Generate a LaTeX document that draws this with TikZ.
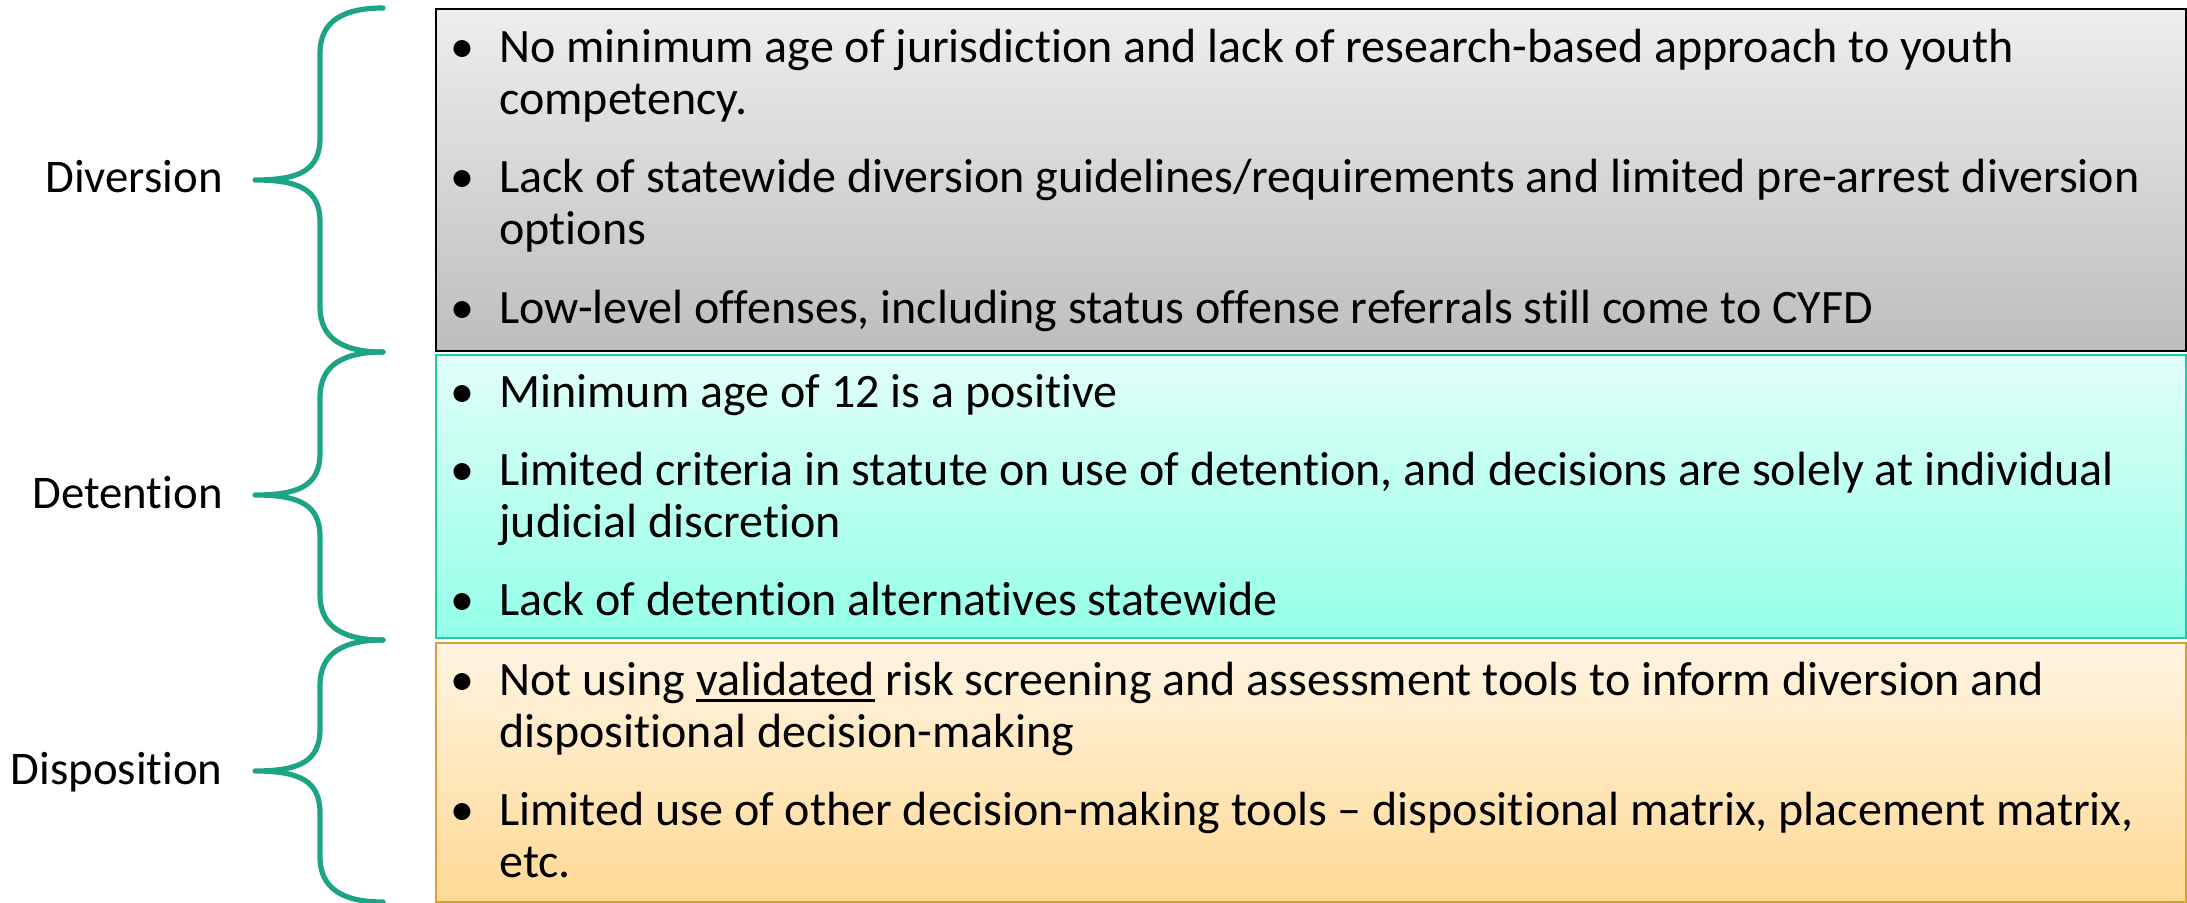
\documentclass[tikz,border=0pt]{standalone}
\usepackage{fontspec}
\setmainfont{Carlito}[Ligatures={NoCommon}]
\definecolor{graytop}{HTML}{EEEEEE}
\definecolor{graybot}{HTML}{BDBDBD}
\definecolor{tealtop}{HTML}{E2FFF8}
\definecolor{tealbot}{HTML}{93FFE8}
\definecolor{tealline}{HTML}{24C9A6}
\definecolor{orgtop}{HTML}{FFF4E2}
\definecolor{orgbot}{HTML}{FFD995}
\definecolor{orgline}{HTML}{D5A036}
\definecolor{bracecol}{HTML}{1DA385}
\newcommand\myul[1]{\setbox0\hbox{#1}\rlap{\rule[-3.7pt]{\wd0}{1.7pt}}\box0\relax}
\newcommand\bl[1]{\parbox[t]{900pt}{\raggedright #1}}
\tikzset{
  box/.style={shading=axis, minimum width=875pt, inner sep=0pt, line width=1pt},
  bullettext/.style={anchor=base west, inner sep=0pt, font=\fontsize{24pt}{26pt}\selectfont},
  bulletdot/.style={anchor=base, inner sep=0pt, font=\fontsize{24pt}{26pt}\selectfont},
  label/.style={anchor=base east, inner sep=0pt, font=\fontsize{23.4pt}{26pt}\selectfont},
  bracestyle/.style={draw=bracecol, line width=2.6pt, line cap=round, line join=round}
}
\newcommand\mybrace[3]{%
  \draw[bracestyle] (383,#1) .. controls (345,#1) and (320,#1+12) .. (320,#1+45)
    -- (320,#2-42) .. controls (320,#2-10) and (300,#2) .. (255,#2)
    .. controls (300,#2) and (320,#2+10) .. (320,#2+42)
    -- (320,#3-45) .. controls (320,#3-12) and (345,#3) .. (383,#3);}
\begin{document}
\begin{tikzpicture}[x=0.5pt, y=-0.5pt]
\useasboundingbox (0,0) rectangle (2187,903);
% boxes
\node[box, draw=black, top color=graytop, bottom color=graybot, minimum height=171pt] (div) at (1311,180) {};
\node[box, draw=tealline, top color=tealtop, bottom color=tealbot, minimum height=141.5pt] (det) at (1311,496.5) {};
\node[box, draw=orgline, top color=orgtop, bottom color=orgbot, minimum height=129.5pt] (dis) at (1311,772.5) {};
% braces
\mybrace{8}{180}{352}
\mybrace{352}{495}{640}
\mybrace{640}{771}{902}
% labels
\node[label] (ldiv) at (223,193) {Diversion};
\node[label] (ldet) at (223,508) {Detention};
\node[label] (ldis) at (223,784) {Disposition};
% bullets: diversion
\node[bulletdot] (d1b) at (462,63) {•};
\node[bullettext] (d1) at (499,63) {\bl{No minimum age of jurisdiction and lack of research-based approach to youth\\competency.}};
\node[bulletdot] (d2b) at (462,193) {•};
\node[bullettext] (d2) at (499,193) {\bl{Lack of statewide diversion guidelines/requirements and limited pre-arrest diversion\\options}};
\node[bulletdot] (d3b) at (462,323) {•};
\node[bullettext] (d3) at (499,323) {\bl{Low-level offenses, including status offense referrals still come to CYFD}};
% bullets: detention
\node[bulletdot] (t1b) at (462,407) {•};
\node[bullettext] (t1) at (499,407) {\bl{Minimum age of 12 is a positive}};
\node[bulletdot] (t2b) at (462,485) {•};
\node[bullettext] (t2) at (499,485) {\bl{Limited criteria in statute on use of detention, and decisions are solely at individual\\judicial discretion}};
\node[bulletdot] (t3b) at (462,615) {•};
\node[bullettext] (t3) at (499,615) {\bl{Lack of detention alternatives statewide}};
% bullets: disposition
\node[bulletdot] (p1b) at (462,695) {•};
\node[bullettext] (p1) at (499,695) {\bl{Not using \myul{validated} risk screening and assessment tools to inform diversion and\\dispositional decision-making}};
\node[bulletdot] (p2b) at (462,825) {•};
\node[bullettext] (p2) at (499,825) {\bl{Limited use of other decision-making tools – dispositional matrix, placement matrix,\\etc.}};
\end{tikzpicture}
\end{document}
